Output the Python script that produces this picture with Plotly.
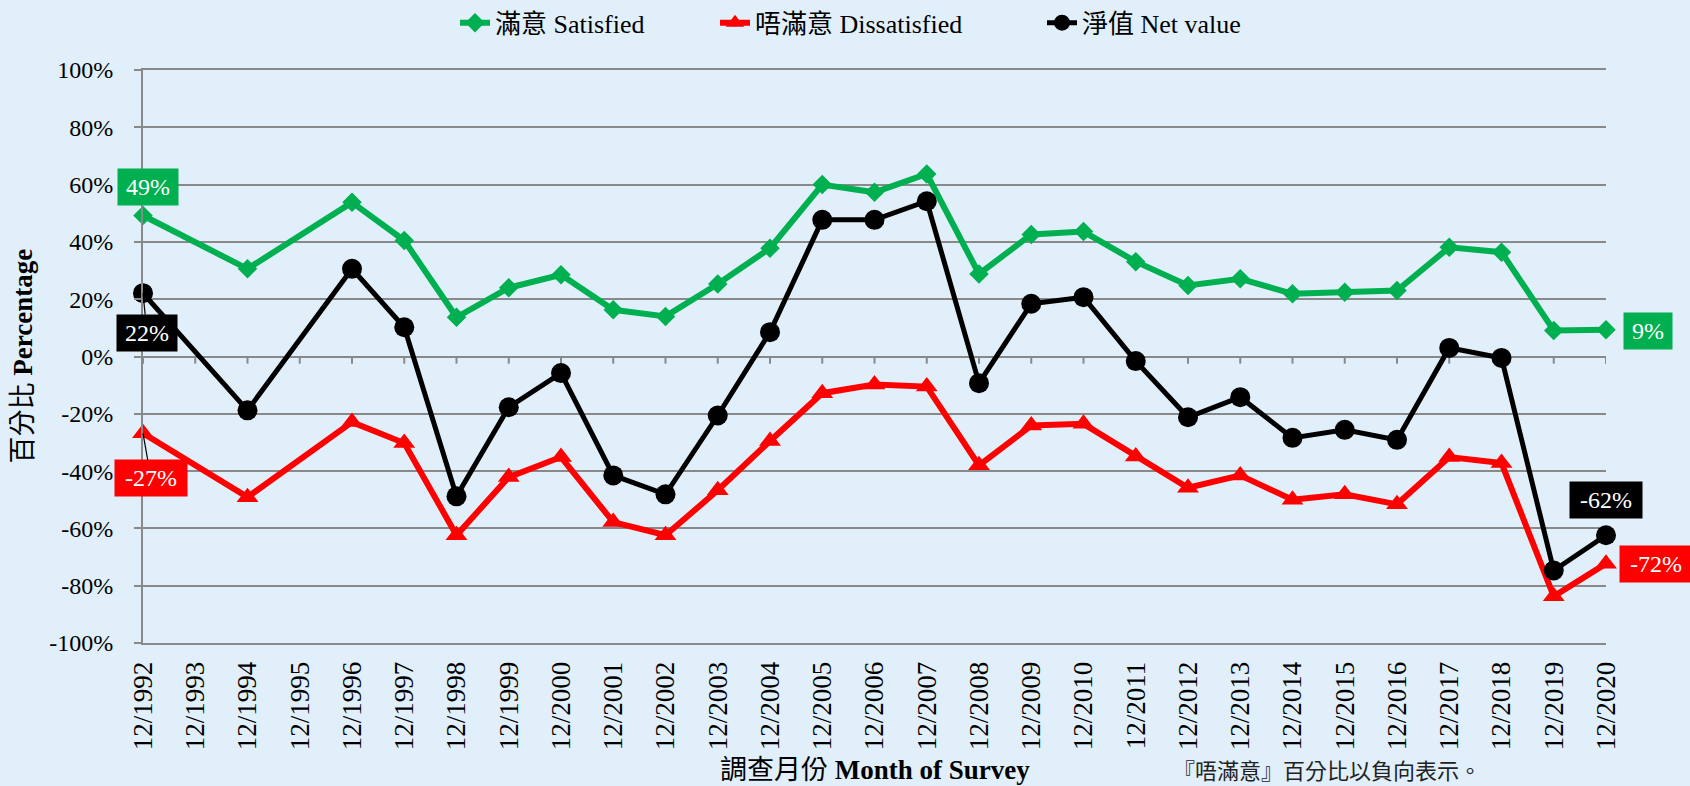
import plotly.graph_objects as go

# survey months (12/1993 and 12/1995 have no survey)
months = ["12/1992", "12/1993", "12/1994", "12/1995", "12/1996", "12/1997", "12/1998",
          "12/1999", "12/2000", "12/2001", "12/2002", "12/2003", "12/2004", "12/2005",
          "12/2006", "12/2007", "12/2008", "12/2009", "12/2010", "12/2011", "12/2012",
          "12/2013", "12/2014", "12/2015", "12/2016", "12/2017", "12/2018", "12/2019",
          "12/2020"]

satisfied = [49.2, None, 30.6, None, 53.8, 40.5, 13.7, 24.0, 28.5, 16.3, 14.0, 25.3, 37.8,
             60.0, 57.3, 63.7, 28.8, 42.6, 43.6, 33.1, 24.8, 27.1, 21.9, 22.4, 23.0, 38.1,
             36.4, 9.1, 9.3]
dissatisfied = [-26.8, None, -49.1, None, -22.9, -30.2, -62.4, -42.1, -35.1, -57.8, -62.4,
                -46.7, -29.5, -12.8, -9.8, -10.5, -38.0, -24.1, -23.5, -34.9, -45.8, -41.5,
                -50.0, -48.1, -51.6, -35.1, -37.2, -83.7, -72.3]
net = [22.1, None, -18.8, None, 30.6, 10.2, -48.8, -17.7, -5.8, -41.5, -48.1, -20.6, 8.5,
       47.7, 47.7, 54.2, -9.3, 18.4, 20.7, -1.6, -21.2, -14.2, -28.4, -25.6, -29.1, 3.0,
       -0.5, -74.7, -62.4]

y_ticks = [-100, -80, -60, -40, -20, 0, 20, 40, 60, 80, 100]
y_ticktext = ["-100%", "-80%", "-60%", "-40%", "-20%", "0%", "20%", "40%", "60%", "80%", "100%"]

GREEN = "#00B050"
RED = "#FF0000"
BLACK = "#000000"
GRID = "#898989"
BG = "#E0EFFA"
FONT = "'Liberation Serif', 'Noto Sans CJK TC', serif"
SERIF = "'Liberation Serif', serif"

fig = go.Figure()
fig.add_trace(go.Scatter(x=months, y=satisfied, name="滿意 Satisfied", mode="lines+markers",
                         connectgaps=True, cliponaxis=False, legend="legend",
                         line=dict(color=GREEN, width=6),
                         marker=dict(symbol="diamond", size=15, color=GREEN)))
fig.add_trace(go.Scatter(x=months, y=dissatisfied, name="唔滿意 Dissatisfied", mode="lines+markers",
                         connectgaps=True, cliponaxis=False, legend="legend2",
                         line=dict(color=RED, width=6),
                         marker=dict(symbol="triangle-up", size=19, color=RED)))
fig.add_trace(go.Scatter(x=months, y=net, name="淨值 Net value", mode="lines+markers",
                         connectgaps=True, cliponaxis=False, legend="legend3",
                         line=dict(color=BLACK, width=5),
                         marker=dict(symbol="circle", size=20, color=BLACK)))

# small category ticks hanging off the 0% line
for m in months:
    fig.add_shape(type="line", xref="x", yref="y", x0=m, x1=m, y0=0, y1=-2.5,
                  line=dict(color=GRID, width=2), layer="below")

# boxed data labels: (series, colour, index, xshift, yshift, leader line)
labels = [
    (satisfied, GREEN, 0, 5, 29, False),
    (net, BLACK, 0, 4, 40, True),
    (dissatisfied, RED, 0, 8, 45, True),
    (satisfied, GREEN, 28, 42, -1, False),
    (net, BLACK, 28, 0, 35, False),
    (dissatisfied, RED, 28, 50, 0, False),
]
for series, col, i, dx, dy, leader in labels:
    v = series[i]
    txt = f"{round(v)}%"
    common = dict(x=months[i], y=v, xref="x", yref="y", text=txt,
                  font=dict(family=SERIF, size=24, color="white"),
                  bgcolor=col, borderpad=4, width=16 + 12 * len(txt), height=28)
    if leader:
        fig.add_annotation(**common, showarrow=True, arrowhead=0, arrowwidth=1.2,
                           arrowcolor="black", ax=dx, ay=dy, standoff=0)
    else:
        fig.add_annotation(**common, showarrow=False, xshift=dx, yshift=dy)

# axis titles and footnote
fig.add_annotation(text="百分比 <b>Percentage</b>", xref="paper", yref="paper", x=0, y=0.5,
                   xshift=-121, xanchor="center", yanchor="middle", textangle=-90,
                   showarrow=False, font=dict(family=FONT, size=27, color="black"))
fig.add_annotation(text="調查月份 <b>Month of Survey</b>", xref="paper", yref="paper", x=0.5, y=0,
                   yshift=-127, xanchor="center", yanchor="middle", showarrow=False,
                   font=dict(family=FONT, size=27, color="black"))
fig.add_annotation(text="『唔滿意』百分比以負向表示。", xref="paper", yref="paper", x=0.703, y=0,
                   xanchor="left", yanchor="middle", yshift=-128, showarrow=False,
                   font=dict(family=FONT, size=22, color="#222222"))

leg = dict(orientation="h", xref="container", yref="container", y=0.971,
           xanchor="left", yanchor="middle", bgcolor="rgba(0,0,0,0)",
           font=dict(family=FONT, size=26, color="black"))

fig.update_layout(
    width=1690, height=786,
    margin=dict(l=143, r=84, t=70, b=143),
    paper_bgcolor=BG, plot_bgcolor=BG,
    font=dict(family=FONT, size=24, color="black"),
    showlegend=True,
    legend=dict(leg, x=455 / 1690),
    legend2=dict(leg, x=715 / 1690),
    legend3=dict(leg, x=1042 / 1690),
    xaxis=dict(type="category", categoryarray=months, range=[0, 28],
               tickangle=-90, ticks="", showgrid=False,
               showline=True, mirror=True, linecolor=GRID, linewidth=2,
               tickfont=dict(family=SERIF, size=27), ticklabelstandoff=6),
    yaxis=dict(range=[-100, 100], tickvals=y_ticks, ticktext=y_ticktext,
               showgrid=True, gridcolor=GRID, gridwidth=2, zeroline=False,
               showline=True, linecolor=GRID, linewidth=2,
               ticks="outside", ticklen=7, tickwidth=2, tickcolor=GRID,
               tickfont=dict(family=SERIF, size=24), ticklabelstandoff=16),
)

fig.write_html("out.html", config={"displayModeBar": False},
               post_script=f"document.body.style.margin='0';document.body.style.background='{BG}';")
